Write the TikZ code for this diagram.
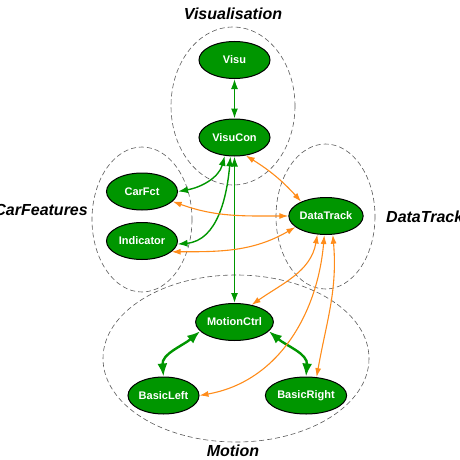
\documentclass[tikz,border=0pt]{standalone}
\usepackage{fontspec}
\setmainfont{Liberation Sans}
\usetikzlibrary{arrows.meta,shapes.geometric}
\definecolor{modgreen}{RGB}{0,150,0}
\definecolor{deporange}{RGB}{255,140,26}

\begin{document}
\begin{tikzpicture}[
  x=1pt, y=-1pt,
  mod/.style={ellipse, draw=black, line width=1pt, fill=modgreen, text=white, inner sep=0pt,
    minimum width=71pt, minimum height=37pt, font=\bfseries\fontsize{11}{13}\selectfont},
  grp/.style={draw=black!65, line width=0.6pt, dash pattern=on 5pt off 3pt},
  grplabel/.style={inner sep=0pt, font=\bfseries\itshape\fontsize{16}{18}\selectfont},
  link/.style={<->, modgreen, line width=1.4pt, >={Latex[length=10pt,width=7pt]}},
  biglink/.style={<->, modgreen, line width=2.4pt, >={Latex[length=13pt,width=10pt]}},
  dep/.style={<->, deporange, line width=1.1pt, >={Latex[length=9pt,width=6pt]}}
]
\useasboundingbox (0,0) rectangle (460,460);

% Groups
\draw[grp] (233,106) ellipse [x radius=62, y radius=79];
\draw[grp] (142,219.5) ellipse [x radius=50, y radius=72.5];
\draw[grp] (325.5,216.5) ellipse [x radius=49.5, y radius=72.5];
\draw[grp] (236,358.5) ellipse [x radius=133, y radius=83.5];
\node[grplabel] (lvisu) at (233,14) {Visualisation};
\node[grplabel, anchor=east] (lcar) at (88,210) {CarFeatures};
\node[grplabel, anchor=west] (ldata) at (386,217) {DataTrack};
\node[grplabel] (lmotion) at (233,451) {Motion};

% Modules
\node[mod] (visu) at (234.5,60) {Visu};
\node[mod] (visucon) at (234.5,137.5) {VisuCon};
\node[mod] (carfct) at (142,191.5) {CarFct};
\node[mod] (indicator) at (142,241) {Indicator};
\node[mod] (datatrack) at (326,216) {DataTrack};
\node[mod] (motionctrl) at (234.5,322) {MotionCtrl};
\node[mod] (basicleft) at (163.5,395.5) {BasicLeft};
\node[mod, minimum width=74pt] (basicright) at (306,395.5) {BasicRight};

% Green links
\draw[link] (visu) -- (visucon);
\draw[link] (visucon.-118) to[out=-105, in=10] (carfct.east);
\draw[link] (visucon.-102) to[out=-95, in=5] (indicator.-5);
\draw[link] (visucon) -- (motionctrl);
\draw[biglink] (motionctrl.195) to[out=-140, in=95] (basicleft.north);
\draw[biglink] (motionctrl.-15) to[out=-40, in=85] (basicright.north);

% Orange links
\draw[dep] (visucon.-58) to[bend left=8] (datatrack.150);
\draw[dep] (carfct.-18) to[out=-20, in=180] (datatrack.west);
\draw[dep] (indicator.-20) to[out=0, in=-150] (datatrack.-160);
\draw[dep] (datatrack.-115) to[out=-100, in=35] (motionctrl.45);
\draw[dep] (datatrack.-95) to[out=-95, in=10] (basicleft.east);
\draw[dep] (datatrack.-70) to[out=-85, in=80] (basicright.60);
\end{tikzpicture}
\end{document}
